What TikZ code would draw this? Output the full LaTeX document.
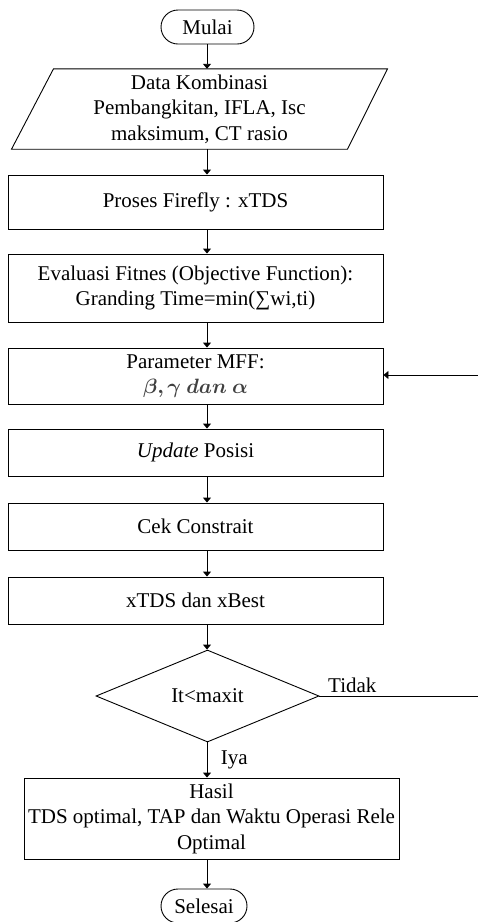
\documentclass[tikz,border=0pt]{standalone}
\usepackage{fontspec}
\setmainfont{Liberation Serif}
\usepackage{amsmath,bm}
\usetikzlibrary{arrows.meta,shapes.geometric,positioning}
\tikzset{>={Triangle[length=5pt,width=8pt]},every node/.style={font=\fontsize{21}{25.5}\selectfont},flow/.style={line width=.9pt,->},edge/.style={line width=.9pt},box/.style={draw,line width=.9pt,minimum width=375pt,align=center,inner sep=0pt},term/.style={draw,line width=.9pt,rounded corners=17pt,minimum height=34pt,inner sep=0pt},io/.style={minimum width=300pt,minimum height=80pt,align=center,inner sep=0pt},decide/.style={draw,line width=.9pt,diamond,aspect=2.42,minimum width=223pt,minimum height=92pt,inner sep=0pt}}

\begin{document}
\begin{tikzpicture}[x=1pt,y=-1pt]
\useasboundingbox (0,0) rectangle (478,922);
\coordinate (ax) at (207,0);
\node[term,minimum width=93pt] (mulai) at (207.5,27) {Mulai};
\node[io] (data) at (199.5,109) {Data Kombinasi\\Pembangkitan, IFLA, Isc\\maksimum, CT rasio};
\draw[edge] ([xshift=-146pt]data.north) -- ([xshift=188pt]data.north) -- ([xshift=148pt]data.south) -- ([xshift=-188pt]data.south) -- cycle;
\node[box,minimum height=54pt] (proses) at (195.5,202) {Proses Firefly : xTDS};
\node[box,minimum height=68pt] (eval) at (195.5,288) {Evaluasi Fitnes (Objective Function):\\Granding Time=min(∑wi,ti)};
\node[box,minimum height=56pt] (param) at (195.5,376) {Parameter MFF:\\\textcolor{black!75}{$\bm{\beta,\gamma\ dan\ \alpha}$}};
\node[box,minimum height=47pt] (update) at (195.5,452.5) {\textit{Update} Posisi};
\node[box,minimum height=47pt] (cek) at (195.5,526.5) {Cek Constrait};
\node[box,minimum height=47pt] (best) at (195.5,600.5) {xTDS dan xBest};
\node[decide] (iter) at (207.5,696) {It<maxit};
\node[box,minimum height=81pt] (hasil) at (211.5,818.5) {Hasil\\TDS optimal, TAP dan Waktu Operasi Rele\\Optimal};
\node[term,minimum width=86pt] (selesai) at (204,906) {Selesai};
\coordinate (tidak) at (478,696);
\coordinate (balik) at (478,375);
% alur utama
\draw[flow] (mulai.south -| ax) -- (data.north -| ax);
\draw[flow] (data.south -| ax) -- (proses.north -| ax);
\draw[flow] (proses.south -| ax) -- (eval.north -| ax);
\draw[flow] (eval.south -| ax) -- (param.north -| ax);
\draw[flow] (param.south -| ax) -- (update.north -| ax);
\draw[flow] (update.south -| ax) -- (cek.north -| ax);
\draw[flow] (cek.south -| ax) -- (best.north -| ax);
\draw[flow] (best.south -| ax) -- (iter.north -| ax);
\draw[flow] (iter.south -| ax) -- (hasil.north -| ax) node[midway,right,xshift=10pt]{Iya};
\draw[flow] (hasil.south -| ax) -- (selesai.north -| ax);
% umpan balik
\draw[edge] (iter.east) -- (tidak) node[pos=0,above right,xshift=5pt]{Tidak};
\draw[flow] (balik) -- (param.east |- balik);
\end{tikzpicture}
\end{document}
